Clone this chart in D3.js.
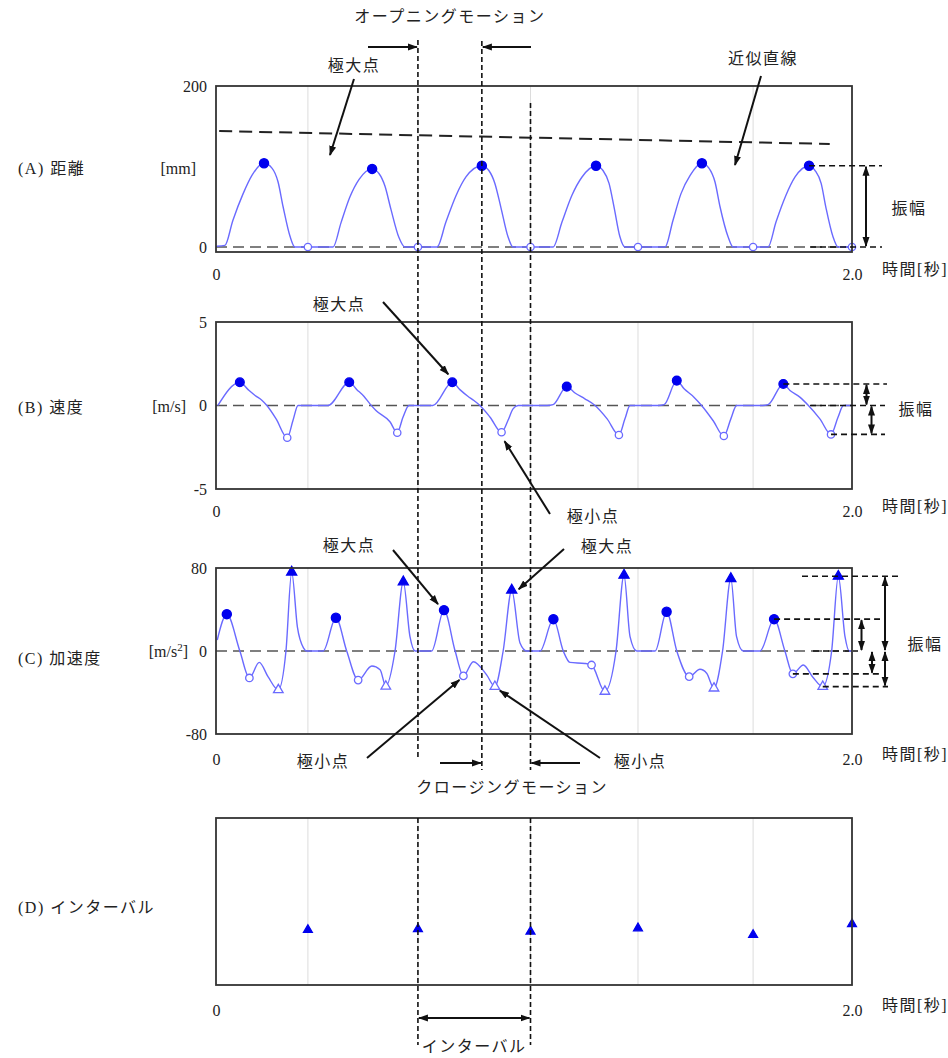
<!DOCTYPE html>
<html>
<head>
<meta charset="utf-8">
<script src="https://cdn.jsdelivr.net/npm/d3@7"></script>
<style>
  body { margin: 0; background: #fff; }
  svg text { font-family: "Liberation Serif", "Noto Sans CJK JP", serif; font-size: 16px; fill: #222; }
  svg text.jp { letter-spacing: 1.5px; }
</style>
</head>
<body>
<svg width="948" height="1058"></svg>
<script>
// ---- values ----
var timeDomain = [0, 2.0];
var timeTicks = [0, 2.0];

// (A) distance [mm]
var distTicks = [0, 200];
var distT = [0.003,0.028,0.053,0.085,0.113,0.151,0.176,0.195,0.211,0.233,0.248,0.289,0.368,
  0.393,0.421,0.450,0.491,0.513,0.531,0.550,0.575,0.594,0.635,0.695,
  0.723,0.755,0.786,0.836,0.858,0.877,0.896,0.918,0.934,0.989,1.060,
  1.088,1.119,1.151,1.195,1.217,1.236,1.252,1.270,1.286,1.327,1.412,
  1.437,1.462,1.491,1.528,1.550,1.569,1.585,1.610,1.626,1.689,1.736,
  1.761,1.792,1.821,1.865,1.884,1.903,1.918,1.940,1.956,2.0];
var distV = [1,2,33,66,89,104,98,81,50,13,0,0,0,
  30,62,84,97,91,76,47,12,0,0,0,
  31,64,87,101,95,79,49,13,0,0,0,
  31,64,87,101,95,79,49,13,0,0,0,
  33,66,89,104,98,81,50,13,0,0,0,
  31,64,87,101,95,79,49,13,0,0];
var distMaxT = [0.151, 0.491, 0.836, 1.195, 1.528, 1.865];
var distMaxV = [104, 97, 101, 101, 104, 101];
var minT = [0.289, 0.635, 0.989, 1.327, 1.689, 2.0];   // distance minima
var trendT = [0.01, 1.93];
var trendV = [144, 128];

// (B) velocity [m/s]
var velTicks = [-5, 0, 5];
var velT = [0.006,0.075,0.101,0.123,0.145,0.160,0.189,0.224,0.242,0.258,0.352,
  0.419,0.443,0.465,0.484,0.503,0.547,0.570,0.588,0.607,0.682,
  0.743,0.767,0.792,0.811,0.830,0.862,0.898,0.918,0.934,0.950,1.041,
  1.060,1.103,1.129,1.160,1.192,1.230,1.267,1.286,1.302,1.390,
  1.409,1.449,1.472,1.503,1.527,1.563,1.597,1.619,1.637,1.719,
  1.736,1.784,1.805,1.836,1.863,1.899,1.934,1.956,1.973,2.0];
var velV = [0,1.39,0.95,0.6,0.3,0,-0.8,-1.93,-0.9,0,0,
  1.39,0.95,0.55,0.1,-0.3,-0.97,-1.63,-0.7,0,0,
  1.39,0.95,0.55,0.3,0,-0.7,-1.6,-0.9,-0.2,0,0,
  0.05,1.13,0.75,0.4,0,-0.8,-1.77,-0.8,0,0,
  0.05,1.49,1.0,0.5,0,-0.9,-1.83,-0.8,0,0,
  0.05,1.29,0.9,0.5,0,-0.8,-1.73,-0.7,0,0];
var velMaxT = [0.075, 0.419, 0.743, 1.103, 1.449, 1.784];
var velMaxV = [1.39, 1.39, 1.39, 1.13, 1.49, 1.29];
var velMinT = [0.224, 0.570, 0.898, 1.267, 1.597, 1.934];
var velMinV = [-1.93, -1.63, -1.6, -1.77, -1.83, -1.73];

// (C) acceleration [m/s2]
var accTicks = [-80, 0, 80];
var accT = [0.004,0.034,0.075,0.105,0.136,0.164,0.196,0.220,0.238,0.256,0.275,0.285,0.337,
  0.377,0.411,0.447,0.490,0.516,0.534,0.563,0.589,0.610,0.626,0.678,
  0.717,0.752,0.778,0.809,0.851,0.877,0.903,0.930,0.956,0.977,1.019,
  1.061,1.092,1.113,1.160,1.181,1.223,1.258,1.283,1.302,1.323,1.381,
  1.417,1.449,1.488,1.522,1.543,1.566,1.593,1.619,1.637,1.658,1.711,
  1.755,1.789,1.814,1.847,1.877,1.908,1.936,1.957,1.978,1.991,2.0];
var accV = [10.6,35.5,0,-26,-11,-25,-37.5,0,76,23,3,0,0,
  32,0,-28,-14.5,-18,-34,0,66.6,13.8,0,0,
  39.4,0,-24,-10.3,-23,-34.3,0,58.6,7.7,0,0,
  30.7,0,-11,-12,-13.5,-39,0,73,13.8,0,0,
  37.8,0,-24.7,-17.6,-21.4,-35.9,0,69.8,13.8,0,0,
  30.7,0,-22,-13.5,-25.3,-34.3,0,72,13.8,0,0];
var accPeakT = [0.034, 0.377, 0.717, 1.061, 1.417, 1.755];
var accPeakV = [35.5, 32, 39.4, 30.7, 37.8, 30.7];
var accDipT = [0.105, 0.447, 0.778, 1.181, 1.488, 1.814];
var accDipV = [-26, -28, -24, -13.5, -24.7, -22];
var accLowT = [0.196, 0.534, 0.877, 1.223, 1.566, 1.908];
var accLowV = [-37.5, -34, -34.3, -39, -35.9, -34.3];
var accSpikeT = [0.238, 0.589, 0.930, 1.283, 1.619, 1.957];
var accSpikeV = [76, 66.6, 58.6, 73, 69.8, 72];

// (D) interval (relative height, no scale shown)
var intV = [0.33, 0.335, 0.32, 0.34, 0.30, 0.365];

// ---- drawing ----
var svg = d3.select("svg");
var curveColor = "#6a6aff", markColor = "#0000ee";

var x = d3.scaleLinear().domain(timeDomain).range([216, 852]);
var yA = d3.scaleLinear().domain([-6.2, 200]).range([252, 86]);
var yB = d3.scaleLinear().domain([-5, 5]).range([489, 322]);
var yC = d3.scaleLinear().domain([-80, 80]).range([734, 568]);
var yD = d3.scaleLinear().domain([0, 1]).range([985, 818]);

var defs = svg.append("defs");
defs.append("marker")
    .attr("id", "arrow")
    .attr("viewBox", "0 0 10 10")
    .attr("refX", 9).attr("refY", 5)
    .attr("markerUnits", "userSpaceOnUse")
    .attr("markerWidth", 10).attr("markerHeight", 10)
    .attr("orient", "auto-start-reverse")
  .append("path")
    .attr("d", "M0,1.5L10,5L0,8.5z")
    .attr("fill", "#111");

function panelBase(y, hasZero) {
  var top = y.range()[1], bot = y.range()[0];
  var g = svg.append("g");
  g.selectAll("line.grid").data(minT).join("line")
      .attr("class", "grid")
      .attr("x1", d => x(d)).attr("x2", d => x(d))
      .attr("y1", top).attr("y2", bot)
      .attr("stroke", "#dcdcdc").attr("stroke-width", 1);
  if (hasZero) {
    g.append("line")
        .attr("x1", x(0)).attr("x2", x(2))
        .attr("y1", y(0)).attr("y2", y(0))
        .attr("stroke", "#555").attr("stroke-width", 1.6)
        .attr("stroke-dasharray", "11,6");
  }
  return g;
}

function frame(y) {
  var top = y.range()[1], bot = y.range()[0];
  svg.append("rect")
      .attr("x", x(0)).attr("y", top)
      .attr("width", x(2) - x(0)).attr("height", bot - top)
      .attr("fill", "none").attr("stroke", "#333").attr("stroke-width", 1.8);
}

function curve(ts, vs, y) {
  var line = d3.line()
      .x(d => x(d[0])).y(d => y(d[1]))
      .curve(d3.curveMonotoneX);
  svg.append("path")
      .datum(d3.zip(ts, vs))
      .attr("d", line)
      .attr("fill", "none")
      .attr("stroke", curveColor)
      .attr("stroke-width", 1.4);
}

function marks(ts, vs, y, type, filled, size) {
  svg.append("g").selectAll("path").data(d3.zip(ts, vs)).join("path")
      .attr("transform", d => "translate(" + x(d[0]) + "," + y(d[1]) + ")")
      .attr("d", d3.symbol(type, size))
      .attr("fill", filled ? markColor : "#fff")
      .attr("stroke", filled ? markColor : curveColor)
      .attr("stroke-width", 1.3);
}

function yAxis(y, ticks) {
  var g = svg.append("g")
      .attr("transform", "translate(" + x(0) + ",0)")
      .call(d3.axisLeft(y).tickValues(ticks).tickSize(0).tickPadding(9)
        .tickFormat(d => String(d)));
  g.select(".domain").remove();
}

function timeAxis(y, pad) {
  var g = svg.append("g")
      .attr("transform", "translate(0," + y.range()[0] + ")")
      .call(d3.axisBottom(x).tickValues(timeTicks).tickSize(0).tickPadding(pad)
        .tickFormat(d => d === 0 ? "0" : d.toFixed(1)));
  g.select(".domain").remove();
  svg.append("text").attr("class", "jp")
      .attr("x", 882).attr("y", y.range()[0] + pad + 6)
      .text("時間[秒]");
}

function text(s, tx, ty, anchor) {
  return svg.append("text").attr("class", "jp")
      .attr("x", tx).attr("y", ty)
      .attr("text-anchor", anchor || "start")
      .text(s);
}

function plain(s, tx, ty, anchor) {
  return svg.append("text")
      .attr("x", tx).attr("y", ty)
      .attr("text-anchor", anchor || "start")
      .text(s);
}

function arrow(x1, y1, x2, y2, both) {
  var l = svg.append("line")
      .attr("x1", x1).attr("y1", y1).attr("x2", x2).attr("y2", y2)
      .attr("stroke", "#111").attr("stroke-width", 2)
      .attr("marker-end", "url(#arrow)");
  if (both) l.attr("marker-start", "url(#arrow)");
}

function hdash(x1, x2, yy) {
  svg.append("line")
      .attr("x1", x1).attr("x2", x2).attr("y1", yy).attr("y2", yy)
      .attr("stroke", "#111").attr("stroke-width", 1.6)
      .attr("stroke-dasharray", "6,4");
}

function vdash(xx, y1, y2) {
  svg.append("line")
      .attr("x1", xx).attr("x2", xx).attr("y1", y1).attr("y2", y2)
      .attr("stroke", "#111").attr("stroke-width", 1.6)
      .attr("stroke-dasharray", "5,3");
}

var circle = d3.symbolCircle, tri = d3.symbolTriangle;

// (A) distance
panelBase(yA, true);
svg.append("line")
    .attr("x1", x(trendT[0])).attr("y1", yA(trendV[0]))
    .attr("x2", x(trendT[1])).attr("y2", yA(trendV[1]))
    .attr("stroke", "#222").attr("stroke-width", 2)
    .attr("stroke-dasharray", "13,7");
curve(distT, distV, yA);
marks(distMaxT, distMaxV, yA, circle, true, 66);
marks(minT, minT.map(() => 0), yA, circle, false, 42);
frame(yA);
yAxis(yA, distTicks);
timeAxis(yA, 17);
text("(A) 距離", 18, 174);
plain("[mm]", 196, 174, "end");

// (B) velocity
panelBase(yB, true);
curve(velT, velV, yB);
marks(velMaxT, velMaxV, yB, circle, true, 60);
marks(velMinT, velMinV, yB, circle, false, 42);
frame(yB);
yAxis(yB, velTicks);
timeAxis(yB, 17);
text("(B) 速度", 18, 413);
plain("[m/s]", 186, 412, "end");

// (C) acceleration
panelBase(yC, true);
curve(accT, accV, yC);
marks(accPeakT, accPeakV, yC, circle, true, 66);
marks(accDipT, accDipV, yC, circle, false, 44);
marks(accLowT, accLowV, yC, tri, false, 40);
marks(accSpikeT, accSpikeV, yC, tri, true, 44);
frame(yC);
yAxis(yC, accTicks);
timeAxis(yC, 20);
text("(C) 加速度", 18, 664);
var unitC = svg.append("text").attr("x", 188).attr("y", 657).attr("text-anchor", "end");
unitC.append("tspan").text("[m/s");
unitC.append("tspan").attr("dy", -6).style("font-size", "11px").text("2");
unitC.append("tspan").attr("dy", 6).text("]");

// (D) interval
panelBase(yD, false);
marks(minT, intV, yD, tri, true, 34);
frame(yD);
timeAxis(yD, 20);
text("(D) インターバル", 18, 913);

// ---- annotations ----
var xOpen = x(minT[1]), xPeak = x(distMaxT[2]), xClose = x(minT[2]);
vdash(xOpen, 40, 758);
vdash(xPeak, 41, 770);
vdash(xClose, 103, 770);
vdash(xOpen, 818, 1045);
vdash(xClose, 818, 1045);

text("オープニングモーション", (xOpen + xPeak) / 2, 22, "middle");
arrow(368, 47, xOpen - 1, 47);
arrow(531, 47, xPeak + 1, 47);

text("極大点", 354, 71, "middle");
arrow(354, 79, 330, 155);
text("近似直線", 763, 64, "middle");
arrow(761, 76, 735, 165);

// amplitude, panel A
var aTop = yA(distMaxV[5]), aBot = yA(0);
hdash(x(distMaxT[5]), 882, aTop);
hdash(810, 882, aBot);
arrow(866, aTop + 1, 866, aBot - 1, true);
text("振幅", 909, 214, "middle");

// panel B annotations
text("極大点", 339, 310, "middle");
arrow(383, 302, x(velMaxT[2]) - 4, yB(velMaxV[2]) - 8);
text("極小点", 593, 522, "middle");
arrow(550, 514, x(velMinT[2]) + 3, yB(velMinV[2]) + 9);
var bTop = yB(velMaxV[5]), bZero = yB(0), bBot = yB(velMinV[5]);
hdash(x(velMaxT[5]), 887, bTop);
hdash(810, 885, bZero);
hdash(x(velMinT[5]), 885, bBot);
arrow(866.5, bTop + 1, 866.5, bZero - 1, true);
arrow(871.5, bZero + 1, 871.5, bBot - 1, true);
text("振幅", 916, 415, "middle");

// panel C annotations
text("極大点", 349, 551, "middle");
arrow(393, 550, x(accPeakT[2]) - 6, yC(accPeakV[2]) - 6);
text("極大点", 607, 552, "middle");
arrow(564, 549, x(accSpikeT[2]) + 7, yC(accSpikeV[2]) - 1);
text("極小点", 323, 767, "middle");
arrow(367, 758, x(accDipT[2]) - 4, yC(accDipV[2]) + 4);
text("極小点", 640, 767, "middle");
arrow(600, 758, x(accLowT[2]) + 5, yC(accLowV[2]) + 4);

var cSpike = yC(accSpikeV[5]), cPeak = yC(accPeakV[5]), cZero = yC(0),
    cDip = yC(accDipV[5]), cLow = yC(accLowV[5]);
hdash(802, 898, cSpike);
hdash(x(accPeakT[5]), 880, cPeak);
hdash(813, 858, cZero);
hdash(x(accDipT[5]), 880, cDip);
hdash(x(accLowT[5]), 888, cLow);
arrow(885, cSpike + 1, 885, cZero - 1, true);
arrow(861.5, cPeak + 1, 861.5, cZero - 1, true);
arrow(872, cZero + 1, 872, cDip - 1, true);
arrow(885, cZero + 1, 885, cLow - 1, true);
text("振幅", 925, 650, "middle");

text("クロージングモーション", (xPeak + xClose) / 2 + 6, 793, "middle");
arrow(440, 763, xPeak - 1, 763);
arrow(580, 763, xClose + 1, 763);

// panel D interval arrow
arrow(xOpen + 1, 1018, xClose - 1, 1018, true);
text("インターバル", (xOpen + xClose) / 2, 1052, "middle");
</script>
</body>
</html>
